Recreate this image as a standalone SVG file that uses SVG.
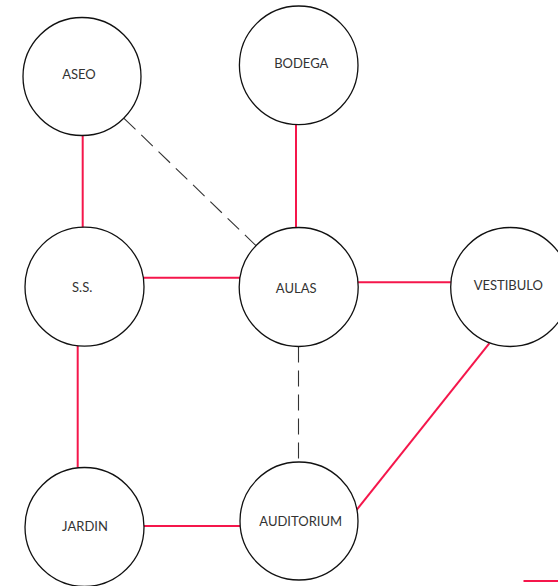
<svg xmlns="http://www.w3.org/2000/svg" width="558" height="586" viewBox="0 0 558 586">
<style>
.node circle{fill:#fff;stroke:#111;stroke-width:1.3}
.node text{font-family:Lato,"Liberation Sans",sans-serif;font-size:13px;fill:#333;text-anchor:middle}
.red{stroke:#f5164b;stroke-width:2;fill:none}
.dash{stroke:#333;stroke-width:1.1;fill:none;stroke-dasharray:16 8}
</style>
<rect width="558" height="586" fill="#fff"/>
<g id="connectors">
<line class="red" x1="82.7" y1="136" x2="82.7" y2="227.5"/>
<line class="red" x1="296" y1="124.5" x2="296" y2="227.5"/>
<line class="red" x1="143.5" y1="277.7" x2="240" y2="277.7"/>
<line class="red" x1="358" y1="282.3" x2="451" y2="282.3"/>
<line class="red" x1="77.7" y1="346" x2="77.7" y2="467.5"/>
<line class="red" x1="143.7" y1="526" x2="240" y2="526"/>
<line class="red" x1="489.3" y1="343.3" x2="356" y2="510.7"/>
<line class="dash" x1="124" y1="118.3" x2="256" y2="245.7"/>
<line class="dash" x1="298.5" y1="346.5" x2="298.5" y2="462"/>
<line class="red" x1="523.5" y1="581" x2="558" y2="581"/>
</g>
<g id="aseo" class="node"><circle cx="82" cy="76.5" r="59"/><text x="79" y="79">ASEO</text></g>
<g id="bodega" class="node"><circle cx="298.7" cy="65.3" r="59.3"/><text x="301.3" y="68.3">BODEGA</text></g>
<g id="ss" class="node"><circle cx="84.5" cy="286.7" r="59.5"/><text x="82.2" y="292.3">S.S.</text></g>
<g id="aulas" class="node"><circle cx="298.7" cy="287" r="59.5"/><text x="296.2" y="292.7">AULAS</text></g>
<g id="vestibulo" class="node"><circle cx="510.2" cy="287" r="59.5"/><text x="508.3" y="290">VESTIBULO</text></g>
<g id="jardin" class="node"><circle cx="84.5" cy="527" r="59.5"/><text x="85" y="530.7">JARDIN</text></g>
<g id="auditorium" class="node"><circle cx="299" cy="521" r="59"/><text x="300.7" y="525.7">AUDITORIUM</text></g>
</svg>
